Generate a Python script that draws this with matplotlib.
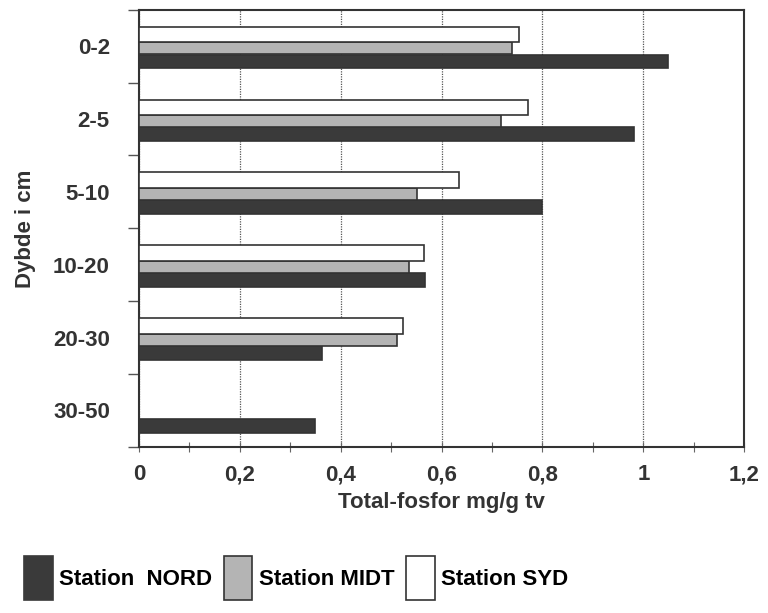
import numpy as np
import matplotlib as mpl
import matplotlib.pyplot as plt
from matplotlib.patches import Patch

mpl.rcParams.update({"font.family": ["Liberation Sans Narrow", "Liberation Sans", "DejaVu Sans"],
                     "font.weight": "bold", "axes.labelweight": "bold", "font.size": 15})
INK = "#333333"

depths = ["0-2", "2-5", "5-10", "10-20", "20-30", "30-50"]
nord = [1.048, 0.982, 0.800, 0.567, 0.363, 0.349]
midt = [0.740, 0.718, 0.552, 0.536, 0.512, np.nan]
syd = [0.754, 0.772, 0.635, 0.565, 0.524, np.nan]

fig = plt.figure(figsize=(7.68, 6.13), dpi=100)
ax = fig.add_axes([0.181, 0.271, 0.788, 0.713])

y = np.arange(len(depths))
# (values, offset, height, face, label)
series = [(nord, 0.21, 0.19, "#3a3a3a", "Station  NORD"),
          (midt, 0.03, 0.165, "#b4b4b4", "Station MIDT"),
          (syd, -0.16, 0.215, "white", "Station SYD")]
for vals, off, h, fc, lab in series:
    ax.barh(y + off, vals, height=h, color=fc, edgecolor=INK, lw=1.2, zorder=3, label=lab)

ax.set_xlim(0, 1.2)
ax.set_ylim(len(depths) - 0.5, -0.5)
ax.set_xticks(np.arange(0, 1.21, 0.2))
ax.set_xticklabels(["0", "0,2", "0,4", "0,6", "0,8", "1", "1,2"])
ax.set_xticks(np.arange(0.1, 1.2, 0.2), minor=True)
ax.set_yticks(y)
ax.set_yticklabels(depths)
ax.set_yticks(np.arange(-0.5, len(depths)), minor=True)
ax.tick_params(axis="y", which="major", length=0, pad=21, labelsize=16, colors=INK)
ax.tick_params(axis="y", which="minor", length=8, direction="out", color="#555555", width=1)
ax.tick_params(axis="x", which="both", direction="inout", length=7, color="#666666", width=0.8,
               labelsize=16, pad=9, colors=INK)
ax.grid(axis="x", which="major", color="#555555", ls=(0, (1, 1)), lw=0.9, zorder=1)
for s in ax.spines.values():
    s.set_color(INK)
    s.set_linewidth(1.5)

ax.set_xlabel("Total-fosfor mg/g tv", fontsize=16, color=INK, labelpad=5)
ax.set_ylabel("Dybde i cm", fontsize=16, color=INK, labelpad=12)

handles = [Patch(facecolor=fc, edgecolor=INK if fc != "#3a3a3a" else "#3a3a3a", lw=1.2, label=lab)
           for _, _, _, fc, lab in series]
fig.legend(handles=handles, loc="lower left", bbox_to_anchor=(0.005, -0.012), ncol=3,
           frameon=False, fontsize=16, handlelength=1.3, handleheight=2.7,
           handletextpad=0.3, columnspacing=0.5)

fig.savefig("out.png", dpi=100, facecolor="white")
